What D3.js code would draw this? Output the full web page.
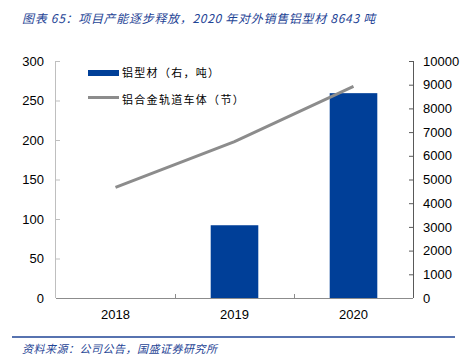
<!DOCTYPE html>
<html><head><meta charset="utf-8">
<script src="https://cdn.jsdelivr.net/npm/d3@7"></script>
<style>body{margin:0;background:#fff}svg{display:block}</style>
</head><body>
<svg id="c" width="468" height="355"></svg>
<script>
const categories = ["2018", "2019", "2020"];
const profileTons = [null, 3070, 8643];       // 铝型材（右，吨）
const carBodies = [140, 198, 268];            // 铝合金轨道车体（节）
const leftTicks = [0, 50, 100, 150, 200, 250, 300];
const rightTicks = [0, 1000, 2000, 3000, 4000, 5000, 6000, 7000, 8000, 9000, 10000];
const titleText = "图表 65：项目产能逐步释放，2020 年对外销售铝型材 8643 吨";
const sourceText = "资料来源：公司公告，国盛证券研究所";
const legendLabels = ["铝型材（右，吨）", "铝合金轨道车体（节）"];

const svg = d3.select("#c");
const L = 56, R = 413, T = 61, B = 298;
const numFont = "'Liberation Sans', Arial, sans-serif";
const cjkFont = "'Noto Sans CJK SC', sans-serif";

const x = d3.scaleBand().domain(categories).range([L, R]).paddingInner(0).paddingOuter(0);
const yL = d3.scaleLinear().domain([0, 300]).range([B, T]);
const yR = d3.scaleLinear().domain([0, 10000]).range([B, T]);

// title
svg.append("text").attr("x", 22).attr("y", 23)
  .attr("font-family", cjkFont).attr("font-size", 12).attr("font-style", "italic")
  .attr("letter-spacing", 0.7).attr("fill", "#1f4596").text(titleText);

// bars
const bw = x.bandwidth() * 0.4;
svg.append("g").selectAll("rect")
  .data(categories.map((c, i) => ({c, v: profileTons[i]})).filter(d => d.v != null))
  .join("rect")
  .attr("x", d => x(d.c) + (x.bandwidth() - bw) / 2)
  .attr("width", bw)
  .attr("y", d => yR(d.v))
  .attr("height", d => B - yR(d.v))
  .attr("fill", "#003f98");

// left axis
const gl = svg.append("g").attr("transform", `translate(${L},0)`)
  .call(d3.axisLeft(yL).tickValues(leftTicks).tickSize(-4).tickPadding(12));
gl.selectAll("path,line").attr("stroke", "#bfbfbf");
gl.select(".domain").attr("d", `M-0.5,${T}V${B}`).attr("stroke", "#bfbfbf");
gl.selectAll("text").attr("font-family", numFont).attr("font-size", 13).attr("fill", "#000");

// right axis
const gr = svg.append("g").attr("transform", `translate(${R},0)`)
  .call(d3.axisRight(yR).tickValues(rightTicks).tickFormat(d3.format("d")).tickSize(-4).tickPadding(10));
gr.selectAll("path,line").attr("stroke", "#595959");
gr.select(".domain").attr("d", `M0.5,${T}V${B}`).attr("stroke", "#595959");
gr.selectAll("text").attr("font-family", numFont).attr("font-size", 13).attr("fill", "#000");

// bottom axis
const gb = svg.append("g").attr("transform", `translate(0,${B})`)
  .call(d3.axisBottom(x).tickSize(0).tickPadding(12));
gb.select(".domain").attr("d", `M${L},0.5H${R}`).attr("stroke", "#8c8c8c");
gb.selectAll("text").attr("font-family", numFont).attr("font-size", 13).attr("fill", "#000");
// category boundary ticks
svg.append("g").selectAll("line").data(categories.slice(1)).join("line")
  .attr("x1", d => Math.round(x(d)) + 0.5).attr("x2", d => Math.round(x(d)) + 0.5)
  .attr("y1", B).attr("y2", B - 4).attr("stroke", "#8c8c8c");

// line
const line = d3.line().x((d, i) => x(categories[i]) + x.bandwidth() / 2).y(d => yL(d));
svg.append("path").attr("d", line(carBodies)).attr("fill", "none")
  .attr("stroke", "#8c8c8c").attr("stroke-width", 3);

// legend
const lg = svg.append("g");
lg.append("rect").attr("x", 88).attr("y", 70).attr("width", 31).attr("height", 6).attr("fill", "#003f98");
lg.append("line").attr("x1", 88).attr("x2", 119).attr("y1", 97.5).attr("y2", 97.5)
  .attr("stroke", "#8c8c8c").attr("stroke-width", 3);
lg.selectAll("text").data(legendLabels).join("text")
  .attr("x", 122).attr("y", (d, i) => 77 + i * 27)
  .attr("font-family", cjkFont).attr("font-size", 11).attr("letter-spacing", 1.3)
  .attr("fill", "#000").text(d => d);

// bottom rule and source
svg.append("line").attr("x1", 12).attr("x2", 455).attr("y1", 337).attr("y2", 337)
  .attr("stroke", "#1f4596").attr("stroke-width", 1.5);
svg.append("text").attr("x", 22).attr("y", 353)
  .attr("font-family", cjkFont).attr("font-size", 11).attr("font-style", "italic")
  .attr("letter-spacing", 0.5).attr("fill", "#1f4596").text(sourceText);
</script>
</body></html>
